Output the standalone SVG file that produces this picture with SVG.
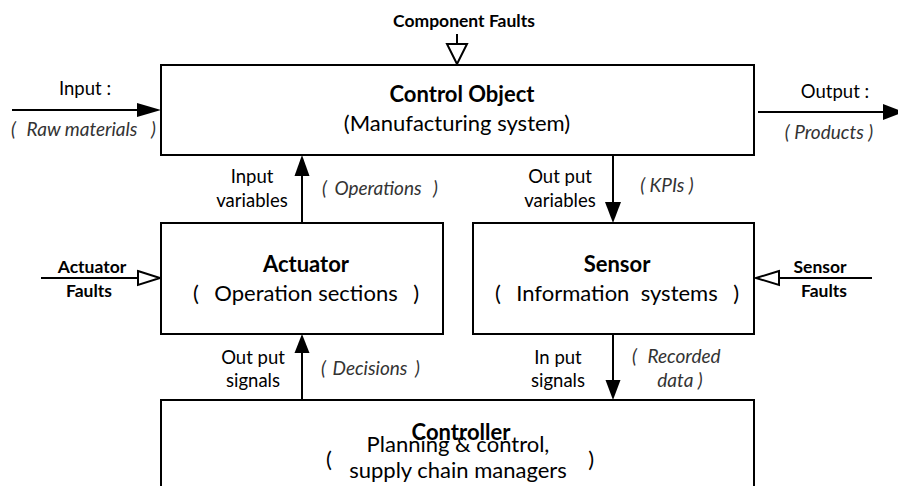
<svg xmlns="http://www.w3.org/2000/svg" width="898" height="486" viewBox="0 0 898 486">
  <style>
    .box { fill: #ffffff; stroke: #000000; stroke-width: 2; }
    .line { fill: none; stroke: #000000; stroke-width: 2; }
    .head { fill: #000000; stroke: none; }
    .hollow { fill: #ffffff; stroke: #000000; stroke-width: 2; stroke-linejoin: miter; }
    text { font-family: Lato, "Liberation Sans", sans-serif; fill: #000000; text-anchor: middle; }
    .title { font-size: 22px; font-weight: bold; }
    .sub { font-size: 22px; }
    .lbl { font-size: 18.5px; }
    .flt { font-size: 17.5px; font-weight: bold; }
    .note { font-size: 19px; font-style: italic; fill: #333333; }
    .l { text-anchor: start; }
    .r { text-anchor: end; }
  </style>

  <!-- connectors -->
  <g id="connectors">
    <!-- raw material input -->
    <line class="line" x1="12" y1="110" x2="138" y2="110"/>
    <polygon class="head" points="137,103 161,110 137,117"/>
    <!-- product output -->
    <line class="line" x1="758" y1="112" x2="884" y2="112"/>
    <polygon class="head" points="883,104 904,112 883,120"/>
    <!-- component faults -->
    <line class="line" x1="457" y1="34" x2="457" y2="44"/>
    <polygon class="hollow" points="447,44 467,44 457,64"/>
    <!-- input variables: actuator -> control object -->
    <line class="line" x1="302" y1="223" x2="302" y2="175"/>
    <polygon class="head" points="294.5,176 309.5,176 302,155"/>
    <!-- output variables: control object -> sensor -->
    <line class="line" x1="613" y1="155" x2="613" y2="203"/>
    <polygon class="head" points="605,202 621,202 613,223"/>
    <!-- actuator faults -->
    <line class="line" x1="41" y1="278" x2="138" y2="278"/>
    <polygon class="hollow" points="138,271 160,278 138,285"/>
    <!-- sensor faults -->
    <line class="line" x1="872" y1="278" x2="779" y2="278"/>
    <polygon class="hollow" points="779,271 756,278 779,285"/>
    <!-- output signals: controller -> actuator -->
    <line class="line" x1="302" y1="400" x2="302" y2="352"/>
    <polygon class="head" points="294.5,353 309.5,353 302,334"/>
    <!-- input signals: sensor -> controller -->
    <line class="line" x1="613" y1="334" x2="613" y2="381"/>
    <polygon class="head" points="605.5,380 620.5,380 613,400"/>
  </g>

  <!-- control object -->
  <g id="control-object">
    <rect class="box" x="161" y="65" width="593" height="90"/>
    <text class="title" x="462" y="102">Control Object</text>
    <text class="sub" x="457" y="131">(Manufacturing system)</text>
  </g>

  <!-- actuator -->
  <g id="actuator">
    <rect class="box" x="161" y="223" width="282" height="111"/>
    <text class="title" x="306" y="272">Actuator</text>
    <text class="sub l" x="193" y="301">(</text>
    <text class="sub" x="306" y="301">Operation sections</text>
    <text class="sub r" x="419" y="301">)</text>
  </g>

  <!-- sensor -->
  <g id="sensor">
    <rect class="box" x="473" y="223" width="281" height="111"/>
    <text class="title" x="617" y="272">Sensor</text>
    <text class="sub l" x="495" y="301">(</text>
    <text class="sub" x="617" y="301" xml:space="preserve">Information  systems</text>
    <text class="sub r" x="739" y="301">)</text>
  </g>

  <!-- controller -->
  <g id="controller">
    <rect class="box" x="161" y="400" width="593" height="100"/>
    <text class="title" x="461" y="440">Controller</text>
    <text class="sub" x="458" y="452">Planning &amp; control,</text>
    <text class="sub" x="458" y="478">supply chain managers</text>
    <text class="sub l" x="326" y="467">(</text>
    <text class="sub r" x="594" y="467">)</text>
  </g>

  <!-- flow labels -->
  <g id="labels">
    <text class="flt" x="464" y="27">Component Faults</text>

    <text class="lbl" x="85" y="95">Input :</text>
    <text class="note l" x="11" y="136">(</text>
    <text class="note" x="82" y="136">Raw materials</text>
    <text class="note r" x="156" y="136">)</text>

    <text class="lbl" x="835" y="98">Output :</text>
    <text class="note" x="829" y="139">( Products )</text>

    <text class="lbl" x="252" y="183">Input</text>
    <text class="lbl" x="252" y="207">variables</text>
    <text class="note l" x="322" y="195">(</text>
    <text class="note" x="378" y="195">Operations</text>
    <text class="note r" x="438" y="195">)</text>

    <text class="lbl" x="560" y="183">Out put</text>
    <text class="lbl" x="560" y="207">variables</text>
    <text class="note" x="667" y="192">( KPIs )</text>

    <text class="flt" x="92" y="273">Actuator</text>
    <text class="flt" x="89" y="297">Faults</text>

    <text class="flt" x="820" y="273">Sensor</text>
    <text class="flt" x="824" y="297">Faults</text>

    <text class="lbl" x="253" y="364">Out put</text>
    <text class="lbl" x="253" y="387">signals</text>
    <text class="note l" x="321" y="375">(</text>
    <text class="note" x="370" y="375">Decisions</text>
    <text class="note r" x="420" y="375">)</text>

    <text class="lbl" x="558" y="364">In put</text>
    <text class="lbl" x="558" y="387">signals</text>
    <text class="note l" x="632" y="363">(</text>
    <text class="note" x="684" y="363">Recorded</text>
    <text class="note" x="680" y="387">data )</text>
  </g>
</svg>
